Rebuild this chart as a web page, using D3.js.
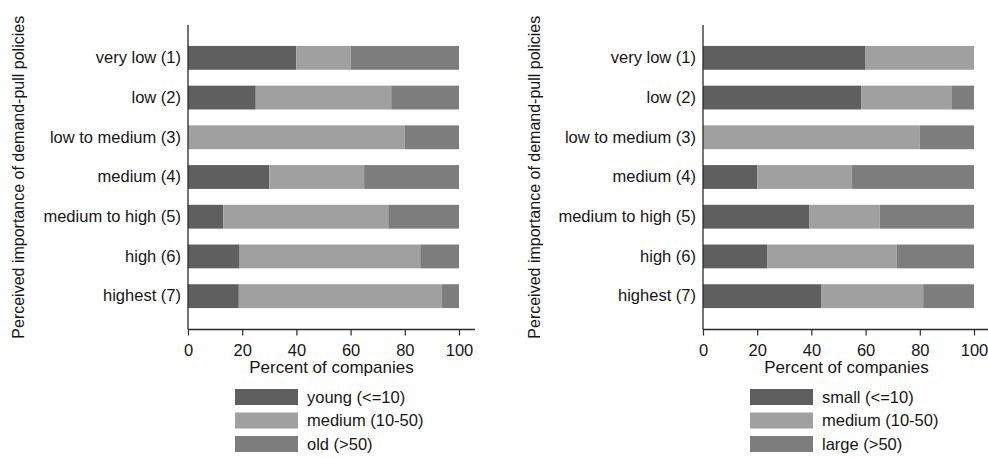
<!DOCTYPE html>
<html>
<head>
<meta charset="utf-8">
<script src="https://cdn.jsdelivr.net/npm/d3@7"></script>
<style>
  html, body { margin: 0; padding: 0; background: #fff; }
  svg { display: block; font-family: "Liberation Sans", Arial, Helvetica, sans-serif; }
</style>
</head>
<body>
<svg id="chart" width="988" height="458"></svg>
<script>
// Importance levels (rows, top to bottom)
const levels = [
  "very low (1)", "low (2)", "low to medium (3)", "medium (4)",
  "medium to high (5)", "high (6)", "highest (7)"
];

// Company age groups, percent of companies per level
const ageGroups = ["young (<=10)", "medium (10-50)", "old (>50)"];
const ageYoung  = [40, 25, 0, 30, 13.04, 19.05, 18.75];
const ageMedium = [20, 50, 80, 35, 60.87, 66.67, 75];
const ageOld    = [40, 25, 20, 35, 26.09, 14.29, 6.25];

// Company size groups, percent of companies per level
const sizeGroups = ["small (<=10)", "medium (10-50)", "large (>50)"];
const sizeSmall  = [60, 58.33, 0, 20, 39.13, 23.81, 43.75];
const sizeMedium = [40, 33.33, 80, 35, 26.09, 47.62, 37.5];
const sizeLarge  = [0, 8.33, 20, 45, 34.78, 28.57, 18.75];

const xTicks = [0, 20, 40, 60, 80, 100];
const xTitle = "Percent of companies";
const yTitle = "Perceived importance of demand-pull policies";

const fills = ["#5f5f5f", "#a0a0a0", "#7d7d7d"];
const ink = "#161616";
const axisColor = "#2a2a2a";

const svg = d3.select("#chart");

function drawPanel(opt) {
  const g = svg.append("g");
  const rows = levels.map((lv, i) => {
    const r = { level: lv };
    opt.groups.forEach((k, j) => { r[k] = opt.series[j][i]; });
    return r;
  });
  const stacked = d3.stack().keys(opt.groups)(rows);

  const x = d3.scaleLinear().domain([0, 100]).range([opt.x0, opt.x100]);
  const y = d3.scaleBand().domain(levels).range([38, 316])
    .paddingInner(0.4).paddingOuter(0.2);

  const plotTop = 25, plotBottom = 329.5;

  // stacked bars
  g.selectAll("g.layer").data(stacked).join("g")
    .attr("class", "layer")
    .attr("fill", (d, i) => fills[i])
    .selectAll("rect").data(d => d).join("rect")
    .attr("x", d => x(d[0]))
    .attr("width", d => Math.max(0, x(d[1]) - x(d[0])))
    .attr("y", d => y(d.data.level))
    .attr("height", y.bandwidth());

  // x axis
  const xAxis = d3.axisBottom(x).tickValues(xTicks).tickSize(6).tickPadding(9);
  const xg = g.append("g").attr("transform", `translate(0,${plotBottom})`).call(xAxis);
  xg.select(".domain").remove();
  xg.selectAll(".tick line").attr("stroke", axisColor).attr("stroke-width", 1.2);
  xg.selectAll(".tick text").attr("fill", ink).attr("font-size", 16.5)
    .attr("font-family", "Liberation Sans, Arial, sans-serif").attr("dy", "0.71em");
  g.append("line")
    .attr("x1", opt.x0).attr("x2", opt.xEnd)
    .attr("y1", plotBottom).attr("y2", plotBottom)
    .attr("stroke", axisColor).attr("stroke-width", 1.3);

  // y axis line and category labels
  g.append("line")
    .attr("x1", opt.x0).attr("x2", opt.x0)
    .attr("y1", plotTop).attr("y2", plotBottom)
    .attr("stroke", axisColor).attr("stroke-width", 1.3);
  const yAxis = d3.axisLeft(y).tickSize(0).tickPadding(7);
  const yg = g.append("g").attr("transform", `translate(${opt.x0},0)`).call(yAxis);
  yg.select(".domain").remove();
  yg.selectAll(".tick text").attr("fill", ink).attr("font-size", 16.5)
    .attr("font-family", "Liberation Sans, Arial, sans-serif");

  // axis titles
  g.append("text")
    .attr("x", (opt.x0 + opt.xEnd) / 2).attr("y", 373)
    .attr("text-anchor", "middle").attr("fill", ink).attr("font-size", 17)
    .text(xTitle);
  g.append("text")
    .attr("transform", `translate(${opt.yTitleX},${(plotTop + plotBottom) / 2}) rotate(-90)`)
    .attr("text-anchor", "middle").attr("dy", "0.35em")
    .attr("fill", ink).attr("font-size", 16)
    .text(yTitle);

  // legend
  const lg = g.append("g").attr("transform", `translate(${opt.legendX},389)`);
  const item = lg.selectAll("g").data(opt.groups).join("g")
    .attr("transform", (d, i) => `translate(0,${i * 23.5})`);
  item.append("rect").attr("width", 63).attr("height", 16)
    .attr("fill", (d, i) => fills[i]);
  item.append("text").attr("x", 72).attr("y", 8).attr("dy", "0.36em")
    .attr("fill", ink).attr("font-size", 16.5).text(d => d);
}

drawPanel({
  groups: ageGroups,
  series: [ageYoung, ageMedium, ageOld],
  x0: 188, x100: 459, xEnd: 475, yTitleX: 18, legendX: 235
});
drawPanel({
  groups: sizeGroups,
  series: [sizeSmall, sizeMedium, sizeLarge],
  x0: 703, x100: 974, xEnd: 990, yTitleX: 534, legendX: 750
});
</script>
</body>
</html>
